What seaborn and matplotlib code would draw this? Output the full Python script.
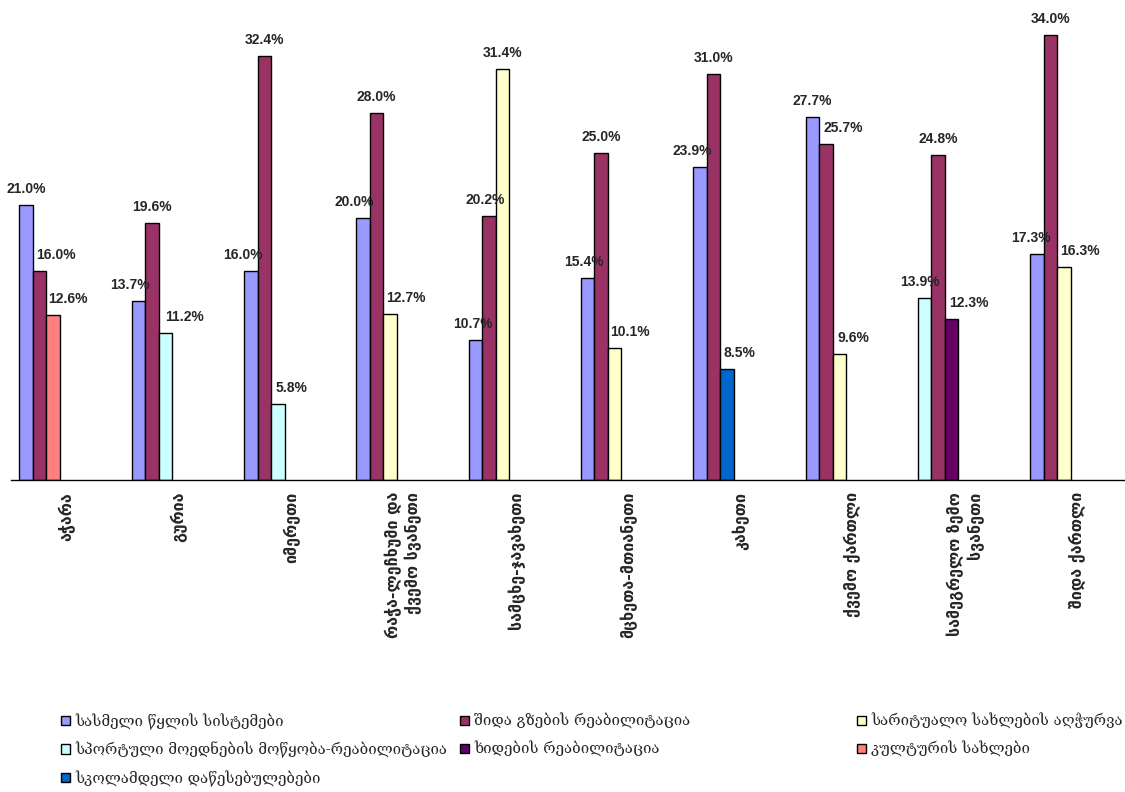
import numpy as np
import pandas as pd
import matplotlib
matplotlib.use("Agg")
import matplotlib.pyplot as plt
from matplotlib.patches import Patch, Rectangle
import seaborn as sns

# ---------------- data ----------------
regions = [
    "აჭარა",
    "გურია",
    "იმერეთი",
    "რაჭა-ლეჩხუმი და\nქვემო სვანეთი",
    "სამცხე-ჯავახეთი",
    "მცხეთა-მთიანეთი",
    "კახეთი",
    "ქვემო ქართლი",
    "სამეგრელო ზემო\nსვანეთი",
    "შიდა ქართლი",
]

series_names = [
    "სასმელი წყლის სისტემები",
    "შიდა გზების რეაბილიტაცია",
    "სარიტუალო სახლების აღჭურვა",
    "სპორტული მოედნების მოწყობა-რეაბილიტაცია",
    "ხიდების რეაბილიტაცია",
    "კულტურის სახლები",
    "სკოლამდელი დაწესებულებები",
]

# three ranked projects per region: series index and share (%)
first_series = [0, 0, 0, 0, 0, 0, 0, 0, 3, 0]
first_values = [21.0, 13.7, 16.0, 20.0, 10.7, 15.4, 23.9, 27.7, 13.9, 17.3]
second_series = [1, 1, 1, 1, 1, 1, 1, 1, 1, 1]
second_values = [16.0, 19.6, 32.4, 28.0, 20.2, 25.0, 31.0, 25.7, 24.8, 34.0]
third_series = [5, 3, 3, 2, 2, 2, 6, 2, 4, 2]
third_values = [12.6, 11.2, 5.8, 12.7, 31.4, 10.1, 8.5, 9.6, 12.3, 16.3]

# ---------------- style ----------------
series_colors = ["#9999FF", "#993366", "#FFFFCC", "#CCFFFF",
                 "#660066", "#FF8080", "#0066CC"]
slot_levels = ["s1", "s2", "s3", "s4", "s5", "s6", "s7"]
# horizontal nudges of value labels (pixels) per slot
label_dx = [
    [0, 16, 15], [-9, 0, 19], [-8, 0, 14], [-9, 0, 16], [-2, -4, 0],
    [-4, 0, 15], [-8, 0, 12], [0, 17, 14], [-5, 0, 17], [-6, 0, 16],
]

sns.set_style("white")
plt.rcParams["font.family"] = ["DejaVu Sans"]

slots = [(first_series, first_values), (second_series, second_values),
         (third_series, third_values)]
rows = []
for k, (ser, vals) in enumerate(slots):
    for j, reg in enumerate(regions):
        rows.append({"region": reg, "slot": slot_levels[k],
                     "value": vals[j], "series": ser[j]})
df = pd.DataFrame(rows)

fig = plt.figure(figsize=(11.25, 7.92), dpi=100)
W, H = 1125, 792
ax_left, ax_right = 10.5, 1133.5
ax_bottom_px = 480
ax = fig.add_axes([ax_left / W, (H - ax_bottom_px) / H,
                   (ax_right - ax_left) / W, ax_bottom_px / H])

total_width = 0.84
palette = {lvl: "#cccccc" for lvl in slot_levels}
sns.barplot(data=df, x="region", y="value", hue="slot", order=regions,
            hue_order=slot_levels, palette=palette, width=total_width,
            saturation=1, edgecolor="black", linewidth=1.0,
            errorbar=None, legend=False, ax=ax)

bar_w = total_width / len(slot_levels)
for bar in list(ax.patches):
    if not isinstance(bar, Rectangle) or bar.get_height() <= 0:
        continue
    cx = bar.get_x() + bar.get_width() / 2
    j = int(np.floor(cx + 0.5))
    k = int(round((cx - j + total_width / 2) / bar_w - 0.5))
    if k > 2:
        continue
    ser, vals = slots[k]
    bar.set_facecolor(series_colors[ser[j]])
    ax.annotate(f"{vals[j]:.1f}%", xy=(cx, bar.get_height()),
                xytext=(label_dx[j][k], 12), textcoords="offset pixels",
                ha="center", va="baseline", fontsize=10,
                fontweight="bold", family="Liberation Sans",
                annotation_clip=False)

ax.set_xlim(-0.5, 9.5)
ax.set_ylim(0, 36.67)
ax.set_xlabel("")
ax.set_ylabel("")
ax.set_yticks([])
for s in ["left", "right", "top"]:
    ax.spines[s].set_visible(False)
ax.spines["bottom"].set_color("black")
ax.spines["bottom"].set_linewidth(1.0)

ax.set_xticks(range(len(regions)))
ax.set_xticklabels(regions, rotation=90, fontsize=11.5, fontweight="bold",
                   va="top", ha="center", multialignment="right")
ax.set_xticks(np.arange(-0.5, len(regions), 1.0), minor=True)
ax.tick_params(axis="x", which="major", length=0, pad=8.6)
ax.tick_params(axis="x", which="minor", length=3.6, width=1,
               color="black", direction="out")

# legend: three columns placed like the original
handles = [Patch(facecolor=c, edgecolor="black", linewidth=1)
           for c in series_colors]
col_items = [[0, 3, 6], [1, 4], [2, 5]]
col_x = [61, 460, 857]
legend_top = 713
for items, x in zip(col_items, col_x):
    fig.legend([handles[i] for i in items],
               [series_names[i] for i in items],
               loc="upper left",
               bbox_to_anchor=(x / W, (H - legend_top) / H),
               frameon=False, handlelength=0.58,
               handleheight=0.58, handletextpad=0.35,
               labelspacing=0.8, borderpad=0, borderaxespad=0,
               prop={"family": ["DejaVu Serif", "DejaVu Sans"],
                     "size": 10.8})

fig.savefig("out.png", dpi=100)
